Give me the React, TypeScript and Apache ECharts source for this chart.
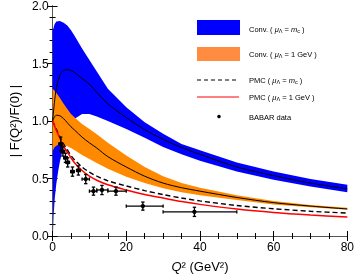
import React, { useEffect, useRef } from 'react';
import * as echarts from 'echarts';

const FONT = 'Liberation Sans, Arial, sans-serif';

// Q^2 grid used for the theory curves (GeV^2)
const Q = [0, 0.5, 1, 2, 3, 4, 5, 6, 8, 10, 12, 15, 20, 25, 30, 35, 40, 50, 60, 70, 80];

// Conv. (mu = m_c) band, blue
const blueUpper = [1.78, 1.84, 1.865, 1.87, 1.855, 1.83, 1.79, 1.74, 1.63, 1.53, 1.43, 1.28, 1.12, 0.99, 0.89, 0.8, 0.745, 0.64, 0.56, 0.495, 0.445];
const blueLowerQ = [0.15, 0.3, 0.6, 1, 1.5, 2, 3, 4, 5, 6, 8, 10, 12, 15, 20, 25, 30, 35, 40, 50, 60, 70, 80];
const blueLower = [0.03, 0.18, 0.33, 0.45, 0.56, 0.65, 0.78, 0.88, 0.96, 1.02, 1.06, 1.06, 1.04, 1.0, 0.93, 0.855, 0.775, 0.71, 0.655, 0.56, 0.49, 0.43, 0.38];
const blueCenter = [1.0, 1.16, 1.28, 1.4, 1.44, 1.445, 1.44, 1.42, 1.37, 1.32, 1.25, 1.15, 1.03, 0.925, 0.84, 0.77, 0.71, 0.6, 0.525, 0.46, 0.41];

// Conv. (mu = 1 GeV) band, orange
const orangeUpper = [1.28, 1.265, 1.245, 1.2, 1.15, 1.105, 1.06, 1.03, 0.975, 0.93, 0.885, 0.81, 0.7, 0.6, 0.52, 0.46, 0.42, 0.355, 0.305, 0.27, 0.245];
const orangeLower = [0.74, 0.77, 0.785, 0.8, 0.795, 0.78, 0.765, 0.745, 0.705, 0.67, 0.635, 0.585, 0.515, 0.46, 0.415, 0.38, 0.355, 0.312, 0.275, 0.25, 0.228];
const orangeCenter = [1.0, 1.035, 1.05, 1.045, 1.02, 0.985, 0.95, 0.92, 0.86, 0.81, 0.765, 0.69, 0.6, 0.52, 0.46, 0.42, 0.39, 0.335, 0.29, 0.26, 0.235];

// PMC curves
const pmcMc = [1.0, 0.965, 0.93, 0.86, 0.8, 0.75, 0.7, 0.66, 0.6, 0.555, 0.52, 0.48, 0.435, 0.395, 0.36, 0.33, 0.305, 0.265, 0.237, 0.215, 0.2];
const pmc1 = [1.0, 0.96, 0.92, 0.85, 0.78, 0.73, 0.68, 0.635, 0.57, 0.52, 0.485, 0.445, 0.4, 0.36, 0.33, 0.3, 0.275, 0.235, 0.205, 0.183, 0.165];

// BABAR data
const babarQ = [2.2, 2.8, 3.5, 4.1, 5.4, 7.0, 9.0, 11.1, 13.4, 17.2, 24.5, 38.5];
const babarF = [0.8, 0.735, 0.68, 0.64, 0.56, 0.57, 0.495, 0.39, 0.4, 0.39, 0.26, 0.21];
const babarQlo = [1.7, 2.3, 3.0, 3.6, 4.9, 6.5, 8, 10, 12, 15, 20, 30];
const babarQhi = [2.7, 3.3, 4.0, 4.6, 5.9, 7.5, 10, 12, 15, 20, 30, 50];
const babarErr = [0.06, 0.04, 0.04, 0.04, 0.04, 0.04, 0.04, 0.035, 0.04, 0.035, 0.035, 0.04];

const xTicks = [0, 20, 40, 60, 80];
const yTicks = [0, 0.5, 1.0, 1.5, 2.0];

function band(xu: number[], yu: number[], xl: number[], yl: number[], color: string, z: number) {
  return {
    type: 'custom',
    coordinateSystem: 'cartesian2d',
    data: [[0, 0]],
    silent: true,
    clip: true,
    z,
    renderItem: (_p: any, api: any) => {
      const pts: number[][] = [];
      xu.forEach((x, i) => pts.push(api.coord([x, yu[i]])));
      for (let i = xl.length - 1; i >= 0; i--) pts.push(api.coord([xl[i], yl[i]]));
      return { type: 'polygon', shape: { points: pts }, style: { fill: color, stroke: null } };
    },
  };
}

function line(ys: number[], color: string, width: number, dash: any, z: number) {
  return {
    type: 'line',
    data: Q.map((q, i) => [q, ys[i]]),
    showSymbol: false,
    smooth: 0.3,
    silent: true,
    z,
    lineStyle: { color, width, type: dash },
  };
}

const subRich = {
  i: { fontStyle: 'italic', fontSize: 7.5, fontFamily: FONT, color: '#000' },
  s: { fontSize: 5.5, fontFamily: FONT, color: '#000', padding: [4, 0, 0, 0] },
};

export default function App() {
  const ref = useRef<HTMLDivElement>(null);
  useEffect(() => {
    if (!ref.current) return;
    const chart = echarts.init(ref.current, undefined, { renderer: 'svg' });
    const axisCommon = {
      type: 'value',
      axisLine: { show: true, lineStyle: { color: '#000', width: 1 } },
      axisTick: { show: true, inside: true, length: 5, lineStyle: { color: '#000' } },
      splitLine: { show: false },
    };
    const legendText = (y: number, text: string) => ({
      type: 'text',
      x: 249,
      y,
      style: {
        text,
        fontSize: 7.5,
        fontFamily: FONT,
        fill: '#000',
        verticalAlign: 'middle',
        rich: subRich,
      },
    });
    chart.setOption({
      animation: false,
      grid: { left: 42, right: 8, top: 5, bottom: 42 },
      xAxis: [
        {
          ...axisCommon,
          min: 0,
          max: 80,
          interval: 20,
          position: 'bottom',
          minorTick: { show: true, splitNumber: 4, length: 3, lineStyle: { color: '#000' } },
          axisLabel: {
            color: '#000',
            fontSize: 12,
            fontFamily: FONT,
            margin: 5,
            formatter: (v: number) => (xTicks.includes(v) ? String(v) : ''),
          },
          name: '{i|Q}² (GeV²)',
          nameLocation: 'middle',
          nameGap: 24,
          nameTextStyle: {
            fontSize: 13,
            fontFamily: FONT,
            color: '#000',
            rich: { i: { fontStyle: 'italic', fontSize: 13, fontFamily: FONT, color: '#000' } },
          },
        },
        {
          ...axisCommon,
          axisLine: { show: true, lineStyle: { color: '#555', width: 1 } },
          min: 0,
          max: 80,
          interval: 20,
          position: 'top',
          minorTick: { show: true, splitNumber: 4, length: 3, lineStyle: { color: '#000' } },
          axisLabel: { show: false },
        },
      ],
      yAxis: [
        {
          ...axisCommon,
          min: 0,
          max: 2,
          interval: 0.5,
          position: 'left',
          minorTick: { show: true, splitNumber: 5, length: 3, lineStyle: { color: '#000' } },
          axisLabel: {
            color: '#000',
            fontSize: 12,
            fontFamily: FONT,
            margin: 4,
            formatter: (v: number) => (yTicks.some((t) => Math.abs(t - v) < 1e-9) ? v.toFixed(1) : ''),
          },
          name: '| F(Q²)/F(0) |',
          nameLocation: 'middle',
          nameGap: 31,
          nameRotate: 90,
          nameTextStyle: { fontSize: 13, fontFamily: FONT, color: '#000' },
        },
        {
          ...axisCommon,
          axisLine: { show: true, lineStyle: { color: '#555', width: 1 } },
          min: 0,
          max: 2,
          interval: 0.5,
          position: 'right',
          minorTick: { show: true, splitNumber: 5, length: 3, lineStyle: { color: '#000' } },
          axisLabel: { show: false },
        },
      ],
      series: [
        band(Q, blueUpper, blueLowerQ, blueLower, '#0000ff', 1),
        band(Q, orangeUpper, Q, orangeLower, '#ff8a00', 2),
        line(blueCenter, '#000000', 1, 'solid', 3),
        line(orangeCenter, '#000000', 1, 'solid', 3),
        line(pmcMc, '#000000', 1.4, [5, 3], 4),
        line(pmc1, '#ff0000', 1.5, 'solid', 5),
        {
          type: 'custom',
          coordinateSystem: 'cartesian2d',
          z: 6,
          silent: true,
          data: babarQ.map((q, i) => [q, babarF[i], babarQlo[i], babarQhi[i], babarErr[i]]),
          encode: { x: 0, y: 1 },
          renderItem: (_p: any, api: any) => {
            const q = api.value(0), f = api.value(1), lo = api.value(2), hi = api.value(3), e = api.value(4);
            const c = api.coord([q, f]);
            const l = api.coord([lo, f]);
            const h = api.coord([hi, f]);
            const t = api.coord([q, f + e]);
            const b = api.coord([q, f - e]);
            const st = { stroke: '#000', lineWidth: 1.3 };
            const cap = 1.7;
            return {
              type: 'group',
              children: [
                { type: 'line', shape: { x1: l[0], y1: l[1], x2: h[0], y2: h[1] }, style: st },
                { type: 'line', shape: { x1: t[0], y1: t[1], x2: b[0], y2: b[1] }, style: st },
                { type: 'line', shape: { x1: t[0] - cap, y1: t[1], x2: t[0] + cap, y2: t[1] }, style: st },
                { type: 'line', shape: { x1: b[0] - cap, y1: b[1], x2: b[0] + cap, y2: b[1] }, style: st },
                { type: 'line', shape: { x1: l[0], y1: l[1] - cap, x2: l[0], y2: l[1] + cap }, style: st },
                { type: 'line', shape: { x1: h[0], y1: h[1] - cap, x2: h[0], y2: h[1] + cap }, style: st },
                { type: 'circle', shape: { cx: c[0], cy: c[1], r: 2.2 }, style: { fill: '#000' } },
              ],
            };
          },
        },
      ],
      graphic: [
        { type: 'rect', shape: { x: 197, y: 20, width: 43, height: 15 }, style: { fill: '#0000ff' } },
        { type: 'rect', shape: { x: 197, y: 47, width: 43, height: 14 }, style: { fill: '#ff8c40' } },
        { type: 'line', shape: { x1: 197, y1: 80, x2: 239, y2: 80 }, style: { stroke: '#000', lineWidth: 1.2, lineDash: [4, 3] } },
        { type: 'line', shape: { x1: 197, y1: 97, x2: 239, y2: 97 }, style: { stroke: '#ff0000', lineWidth: 1 } },
        { type: 'circle', shape: { cx: 219, cy: 116.5, r: 1.8 }, style: { fill: '#000' } },
        legendText(29, 'Conv. ( {i|μ}{s|Λ} = {i|m}{s|c} )'),
        legendText(54, 'Conv. ( {i|μ}{s|Λ} = 1 GeV )'),
        legendText(80, 'PMC ( {i|μ}{s|Λ} = {i|m}{s|c} )'),
        legendText(97, 'PMC ( {i|μ}{s|Λ} = 1 GeV )'),
        legendText(117, 'BABAR data'),
      ],
    });
    return () => chart.dispose();
  }, []);
  return <div ref={ref} style={{ width: 357, height: 278, position: 'fixed', left: 0, top: 0 }} />;
}
